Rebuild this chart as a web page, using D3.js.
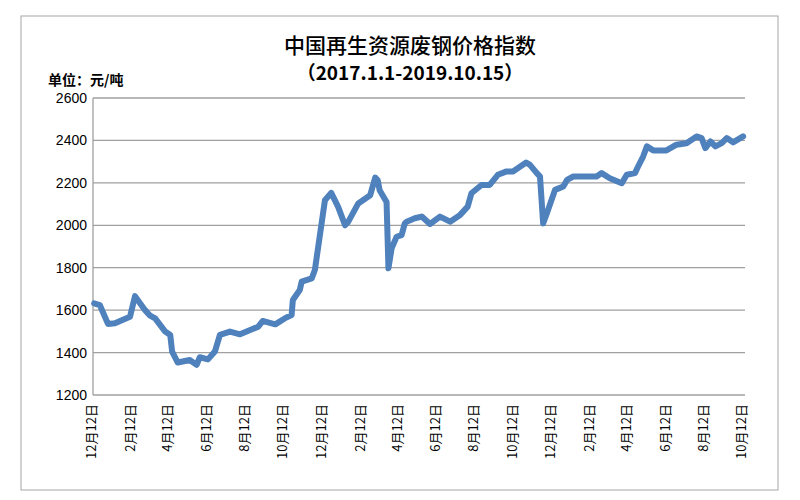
<!DOCTYPE html>
<html><head><meta charset="utf-8">
<script src="https://cdn.jsdelivr.net/npm/d3@7/dist/d3.min.js"></script>
<style>body{margin:0;background:#fff}</style></head>
<body><svg id="c" width="800" height="500"></svg>
<script>
const startDate = "2016-12-12";
const tickLabels = ["12月12日","2月12日","4月12日","6月12日","8月12日","10月12日","12月12日","2月12日","4月12日","6月12日","8月12日","10月12日","12月12日","2月12日","4月12日","6月12日","8月12日","10月12日"];
const dayOffsets = [5,14,27,38,62,70,86,94,102,118,126,129,138,157,168,173,186,197,205,221,237,256,266,273,293,308,319,321,332,335,351,356,372,382,393,404,409,425,444,452,456,459,470,473,478,486,494,499,502,515,526,539,555,571,587,599,605,621,634,647,661,671,692,698,709,714,719,725,738,751,757,767,804,812,825,844,852,865,870,878,884,894,915,931,947,963,971,977,985,993,1003,1011,1021,1037];
const values = [1632,1624,1535,1538,1569,1666,1600,1574,1561,1499,1483,1405,1353,1365,1342,1378,1368,1405,1483,1499,1486,1510,1522,1549,1533,1561,1577,1648,1695,1734,1750,1789,2118,2153,2087,2000,2016,2103,2142,2225,2212,2165,2110,1797,1891,1946,1954,2009,2017,2033,2041,2006,2041,2017,2049,2088,2151,2190,2190,2238,2254,2254,2296,2285,2246,2230,2009,2057,2167,2183,2214,2230,2230,2246,2222,2198,2238,2246,2277,2324,2372,2353,2353,2380,2387,2419,2411,2364,2395,2372,2387,2411,2391,2419];
const yTicks = [1200,1400,1600,1800,2000,2200,2400,2600];

const svg = d3.select("#c");
const t0 = d3.timeParse("%Y-%m-%d")(startDate);
const dates = dayOffsets.map(d => d3.timeDay.offset(t0, d));
const tickDates = tickLabels.map((l,i) => d3.timeMonth.offset(t0, 2*i));
const x = d3.scaleTime().domain([t0, d3.timeDay.offset(t0, 1040)]).range([91, 745]);
const y = d3.scaleLinear().domain([1200, 2600]).range([395, 98]);

svg.append("rect").attr("x",21).attr("y",16).attr("width",757).attr("height",474)
  .attr("fill","none").attr("stroke","#a6a6a6").attr("stroke-width",1);

const cjk = "'Noto Sans CJK SC', sans-serif";
svg.append("text").attr("x",410).attr("y",53).attr("text-anchor","middle")
  .attr("font-family",cjk).attr("font-size",21).attr("font-weight","500").attr("fill","#000").text("中国再生资源废钢价格指数");
svg.append("text").attr("x",410).attr("y",80).attr("text-anchor","middle")
  .attr("font-family",cjk).attr("font-size",19).attr("font-weight","bold").attr("fill","#000").text("（2017.1.1-2019.10.15）");
svg.append("text").attr("x",48).attr("y",85)
  .attr("font-family",cjk).attr("font-size",14).attr("font-weight","bold").attr("fill","#000").text("单位：元/吨");

svg.append("g").selectAll("line").data(yTicks.slice(1)).join("line")
  .attr("x1",93).attr("x2",745).attr("y1",d=>y(d)).attr("y2",d=>y(d))
  .attr("stroke","#a0a0a0").attr("stroke-width",1.3);
svg.append("line").attr("x1",93).attr("x2",93).attr("y1",98).attr("y2",395).attr("stroke","#a0a0a0").attr("stroke-width",1.3);
svg.append("line").attr("x1",93).attr("x2",745).attr("y1",395).attr("y2",395).attr("stroke","#a0a0a0").attr("stroke-width",1.3);

const yAxis = svg.append("g").attr("transform","translate(93,0)")
  .call(d3.axisLeft(y).tickValues(yTicks).tickFormat(d3.format("d")).tickSize(0).tickPadding(6));
yAxis.select(".domain").remove();
yAxis.selectAll("text").attr("font-family","'Liberation Sans', Arial, sans-serif").attr("font-size",14).attr("fill","#000");

const xAxis = svg.append("g").attr("transform","translate(0,395)")
  .call(d3.axisBottom(x).tickValues(tickDates).tickFormat((d,i)=>tickLabels[i]).tickSize(0));
xAxis.select(".domain").remove();
xAxis.selectAll("text").attr("font-family","'Noto Sans CJK SC', sans-serif").attr("font-size",13).attr("fill","#000")
  .attr("text-anchor","end").attr("dy","0.35em").attr("dx",0)
  .attr("transform","translate(0,9) rotate(-90)").attr("y",0).attr("x",0);

const line = d3.line().x((d,i)=>x(dates[i])).y(d=>y(d));
svg.append("path").datum(values).attr("d",line).attr("fill","none")
  .attr("stroke","#4f81bd").attr("stroke-width",6).attr("stroke-linejoin","round").attr("stroke-linecap","round");
</script></body></html>
